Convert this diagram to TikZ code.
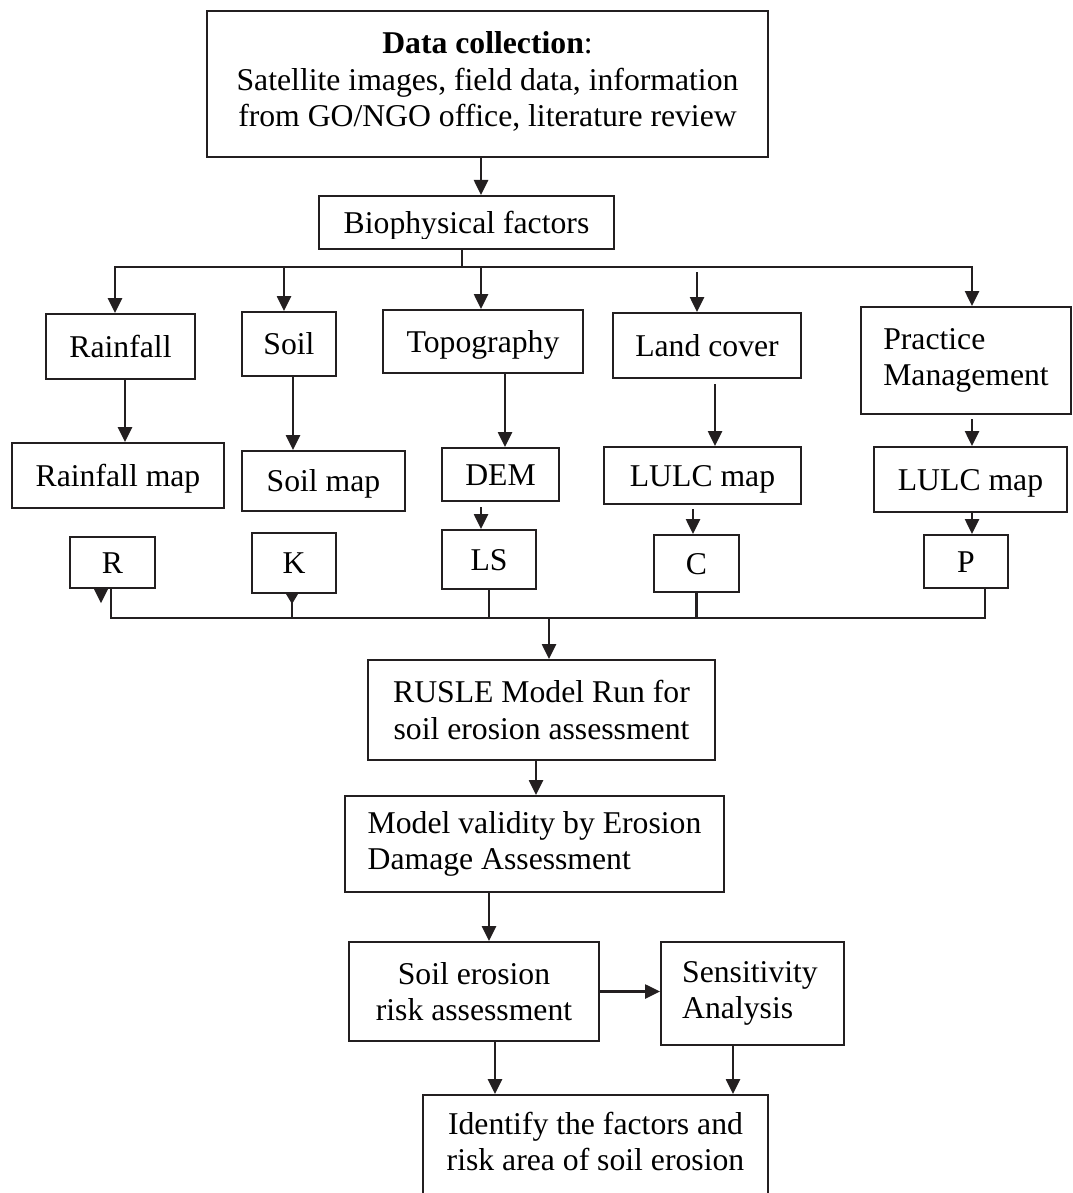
\documentclass[tikz,border=0pt]{standalone}
\usepackage{fontspec}
\setmainfont{Liberation Serif}
\usetikzlibrary{arrows.meta}
\definecolor{ink}{RGB}{35,31,32}
\newcommand\boxfont{\fontsize{31.7}{36.5}\selectfont}
\tikzset{
  box/.style={draw=ink, line width=2pt, rectangle, inner sep=0pt, font=\boxfont, text=black},
  one/.style={box, text height=21.5pt, text depth=0pt},
  conn/.style={draw=ink, line width=2.6pt},
  arr/.style={conn, -{Triangle[length=15pt,width=14pt]}},
  arrboth/.style={conn, {Triangle[length=15pt,width=14pt]}-{Triangle[length=15pt,width=14pt]}},
}
\begin{document}
\begin{tikzpicture}[x=1pt, y=-1pt]
\useasboundingbox (0,0) rectangle (1072,1193);
\fill[white] (0,0) rectangle (1072,1193);
\clip (0,0) rectangle (1072,1193);

% --- top: data collection and biophysical factors
\node[box, align=center, minimum width=561pt, minimum height=146pt] (data) at (487.5,84)
  {\textbf{Data collection}:\\Satellite images, field data, information\\from GO/NGO office, literature review\rule[-9pt]{0pt}{0pt}};
\node[box, minimum width=295pt, minimum height=53pt] (bio) at (466.5,222.5) {};
\begin{scope}
  \clip ([yshift=12pt]bio.south west) rectangle (bio.north east);
  \node[one, draw=none] (biotxt) at (bio.center) {Biophysical factors};
\end{scope}

% --- factor boxes
\node[one, minimum width=149pt, minimum height=65pt] (rain) at (120.5,346.5) {Rainfall};
\node[one, minimum width=94pt,  minimum height=64pt] (soil) at (289,344) {Soil};
\node[one, minimum width=200pt, minimum height=63pt] (topo) at (483,341.5) {Topography};
\node[one, minimum width=188pt, minimum height=65pt] (land) at (707,345.5) {Land cover};
\node[box, align=left, minimum width=210pt, minimum height=107pt] (prac) at (966,360.5)
  {Practice\\Management};

% --- map boxes
\node[one, minimum width=212pt, minimum height=65pt] (rmap)  at (118,475.5) {Rainfall map};
\node[one, minimum width=163pt, minimum height=60pt] (smap)  at (323.5,481) {Soil map};
\node[one, minimum width=117pt, minimum height=53pt] (dem)   at (500.5,474.5) {DEM};
\node[one, minimum width=197pt, minimum height=57pt] (lulcA) at (702.5,475.5) {LULC map};
\node[one, minimum width=193pt, minimum height=65pt] (lulcB) at (970.5,479.5) {LULC map};

% --- factor letters
\node[one, minimum width=85pt, minimum height=51pt] (R)  at (112.5,562.5) {R};
\node[one, minimum width=84pt, minimum height=60pt] (K)  at (294,563) {K};
\node[one, minimum width=94pt, minimum height=59pt] (LS) at (489,559.5) {LS};
\node[one, minimum width=85pt, minimum height=57pt] (C)  at (696.5,563.5) {C};
\node[one, minimum width=84pt, minimum height=53pt] (P)  at (966,561.5) {P};

% --- model and assessment boxes
\node[box, align=center, minimum width=347pt, minimum height=100pt] (rusle) at (541.5,710)
  {RUSLE Model Run for\\soil erosion assessment};
\node[box, align=left, minimum width=379pt, minimum height=96pt] (valid) at (534.5,844)
  {Model validity by Erosion\\Damage Assessment};
\node[box, align=center, minimum width=250pt, minimum height=99pt] (serisk) at (474,991.5)
  {Soil erosion\\risk assessment};
\node[box, align=left, minimum width=183pt, minimum height=103pt] (sens) at (752.5,993.5)
  {\hspace*{-5pt}Sensitivity\\\hspace*{-5pt}Analysis};
\node[box, align=center, anchor=north, minimum width=345pt, inner ysep=17pt] (ident) at (595.5,1094)
  {Identify the factors and\\risk area of soil erosion\rule[-60pt]{0pt}{0pt}};

% --- upper distribution bus
\coordinate (b1) at (115,267);
\coordinate (b2) at (284,267);
\coordinate (b3) at (481,267);
\coordinate (b4) at (697,267);
\coordinate (b5) at (972,267);

\draw[arr] ([xshift=-6.5pt]data.south) -- ([xshift=-6.5pt]data.south |- bio.north);
\draw[conn] ([xshift=-4.5pt]bio.south) -- ([xshift=-4.5pt]bio.south |- b1);
\draw[arrboth] (b1 |- rain.north) -- (b1) -- (b5) -- (b5 |- prac.north);
\draw[arr] (b2) -- (b2 |- soil.north);
\draw[arr] (b3) -- (b3 |- topo.north);
\draw[arr] ([yshift=-5pt]b4) -- (b4 |- land.north);

% --- factor to map
\draw[arr] ([xshift=4.5pt]rain.south) -- ([xshift=4.5pt]rain.south |- rmap.north);
\draw[arr] ([xshift=4pt]soil.south) -- ([xshift=4pt]soil.south |- smap.north);
\draw[arr] ([xshift=22pt]topo.south) -- ([xshift=22pt]topo.south |- dem.north);
\draw[arr] ([xshift=8pt,yshift=-5pt]land.south) -- ([xshift=8pt]land.south |- lulcA.north);
\draw[arr] ([xshift=6pt,yshift=-4pt]prac.south) -- ([xshift=6pt]prac.south |- lulcB.north);

% --- map to factor letter
\draw[arr] ([xshift=-19.5pt,yshift=-5pt]dem.south) -- ([xshift=-19.5pt]dem.south |- LS.north);
\draw[arr] ([xshift=-9.5pt,yshift=-4pt]lulcA.south) -- ([xshift=-9.5pt]lulcA.south |- C.north);
\draw[arr] ([xshift=1.5pt]lulcB.south) -- ([xshift=1.5pt]lulcB.south |- P.north);

% --- lower collecting bus
\coordinate (lbL) at (111,618);
\coordinate (lbR) at (985,618);
\coordinate (lbM) at (549,618);
\draw[conn] (lbL |- R.south) -- (lbL) -- (lbR) -- (lbR |- P.south);
\draw[conn] ([xshift=-2pt]K.south) -- ([xshift=-2pt]K.south |- lbL);
\draw[conn] (LS.south) -- (LS.south |- lbL);
\draw[conn] (C.south) -- (C.south |- lbL);
\fill[ink] ([xshift=-18.5pt]R.south) -- ([xshift=-4.5pt]R.south) -- ([xshift=-11.5pt,yshift=-14pt]R.south) -- cycle;
\fill[ink] ([xshift=-8pt]K.south) -- ([xshift=4pt]K.south) -- ([xshift=-2pt,yshift=-10pt]K.south) -- cycle;
\draw[arr] (lbM) -- (lbM |- rusle.north);

% --- model chain
\draw[arr] ([xshift=-5.5pt]rusle.south) -- ([xshift=-5.5pt]rusle.south |- valid.north);
\draw[arr] ([xshift=15pt]serisk.north |- valid.south) -- ([xshift=15pt]serisk.north);
\draw[arr] (serisk.east) -- (serisk.east -| sens.west);
\draw[arr] ([xshift=21pt]serisk.south) -- ([xshift=21pt]serisk.south |- ident.north);
\draw[arr] ([xshift=-19.5pt]sens.south) -- ([xshift=-19.5pt]sens.south |- ident.north);
\end{tikzpicture}
\end{document}
